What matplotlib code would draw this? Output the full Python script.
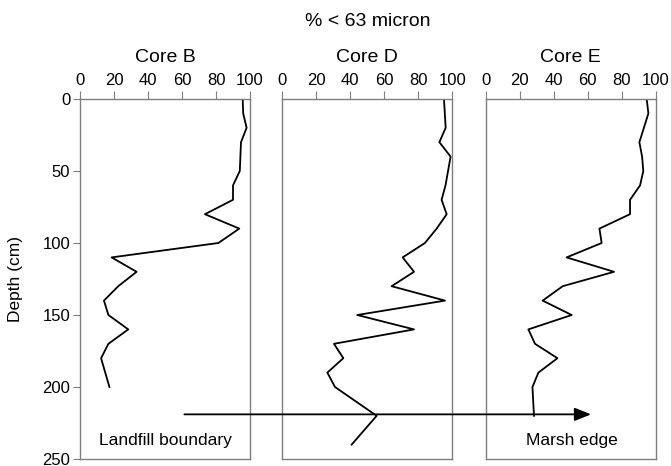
import matplotlib
matplotlib.use('Agg')
import matplotlib.pyplot as plt

plt.rcParams['font.family'] = ['Liberation Sans', 'DejaVu Sans']

# % < 63 micron vs depth (cm)
depth_b = [0, 10, 20, 30, 50, 60, 70, 80, 90, 100, 110, 120, 130, 140, 150, 160, 170, 180, 200]
fines_b = [95.7, 96, 98, 94.7, 94, 90, 90, 73.5, 93.7, 81.4, 18.6, 33.3, 22.5, 14.1, 16.7, 28.4, 16.7, 12.4, 17.3]

depth_d = [0, 20, 30, 40, 50, 60, 70, 80, 90, 100, 110, 120, 130, 140, 150, 160, 170, 180, 190, 200, 220, 240]
fines_d = [95.1, 96.1, 92.4, 99, 97.5, 96, 93.7, 96.7, 90.8, 83.9, 70.8, 77.5, 64.3, 95.7, 44.1, 77.5, 30.4, 35.9, 26.5, 31, 55.5, 40.8]

depth_e = [0, 10, 30, 40, 50, 60, 70, 80, 90, 100, 110, 120, 130, 140, 150, 160, 170, 180, 190, 200, 220]
fines_e = [94.7, 95.7, 90.4, 92, 92.7, 90.8, 84.9, 84.9, 66.9, 68.2, 47.6, 75.5, 45.3, 33.5, 50.6, 25.1, 29, 42.2, 31, 27.5, 28.4]

cores = ['Core B', 'Core D', 'Core E']
depths = [depth_b, depth_d, depth_e]
fines = [fines_b, fines_d, fines_e]

fig = plt.figure(figsize=(6.71, 4.66), dpi=100)
lefts = [80 / 671, 282.3 / 671, 485.7 / 671]
axes = []
for i, left in enumerate(lefts):
    ax = fig.add_axes([left, 7 / 466, 170 / 671, 360 / 466])
    ax.plot(fines[i], depths[i], color='black', lw=1.3)
    ax.set_xlim(0, 100)
    ax.set_ylim(250, 0)
    ax.set_xticks([0, 20, 40, 60, 80, 100])
    ax.xaxis.tick_top()
    ax.set_title(cores[i], fontsize=14, pad=27)
    for s in ax.spines.values():
        s.set_color('#7f7f7f')
        s.set_linewidth(1)
    ax.tick_params(axis='x', colors='#7f7f7f', labelcolor='black', labelsize=12,
                   length=6, pad=2)
    if i == 0:
        ax.set_yticks([0, 50, 100, 150, 200, 250])
        ax.tick_params(axis='y', colors='#7f7f7f', labelcolor='black', labelsize=12,
                       length=5, pad=2)
        ax.set_ylabel('Depth (cm)', fontsize=12.5, labelpad=14)
    else:
        ax.set_yticks([])
    axes.append(ax)

fig.text(368 / 671, 1 - 21 / 466, '% < 63 micron', fontsize=14, ha='center', va='center')

axes[0].text(50, 237, 'Landfill boundary', fontsize=12.5, ha='center', va='center')
axes[2].text(50.6, 237, 'Marsh edge', fontsize=12.5, ha='center', va='center')

axes[2].annotate('', xy=(62, 219), xycoords=axes[2].transData,
                 xytext=(61.4, 219), textcoords=axes[0].transData,
                 arrowprops=dict(arrowstyle='-|>,head_length=1.0,head_width=0.4',
                                 color='black', lw=1.3, shrinkA=0, shrinkB=0),
                 annotation_clip=False)

fig.savefig('out.png', dpi=100)
